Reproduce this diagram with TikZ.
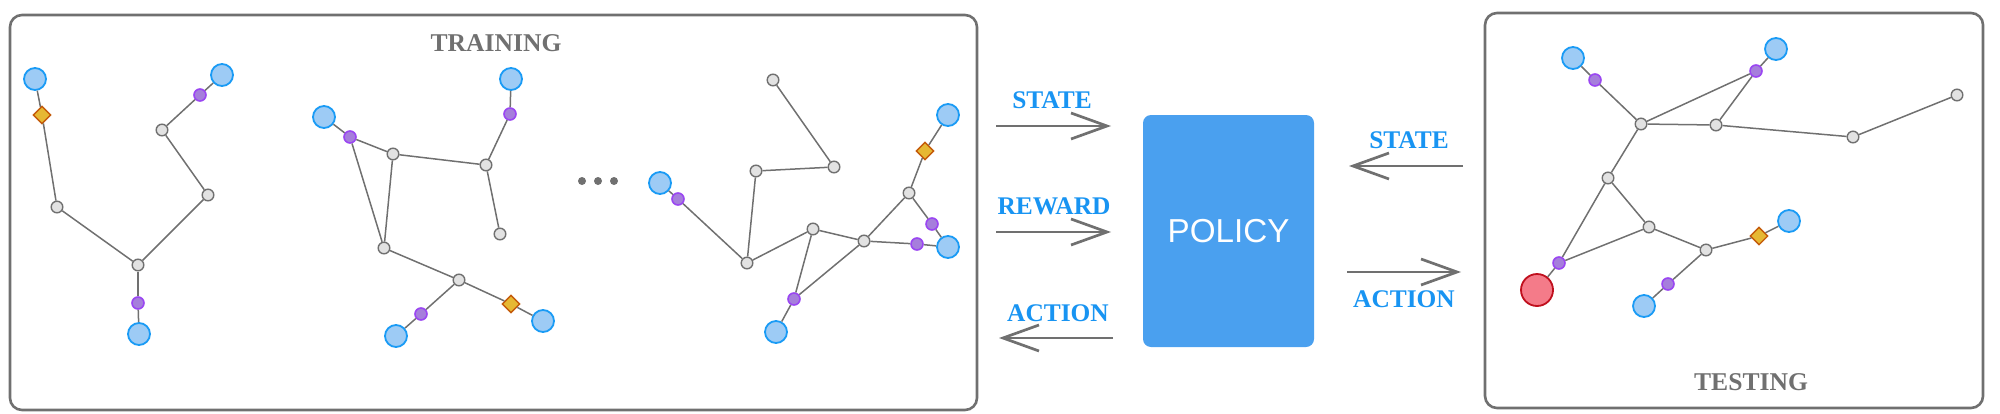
\documentclass[tikz,border=0pt]{standalone}
\usepackage{fontspec}
\setmainfont{Liberation Serif}
\newfontfamily\policyfont{Liberation Sans}
\usepackage{tikz}
\usetikzlibrary{arrows.meta,shapes.geometric}
\usepackage{xcolor}
\definecolor{LeafFill}{HTML}{9DCBF5}
\definecolor{LeafEdge}{HTML}{1A9BF5}
\definecolor{LinkFill}{HTML}{A67EDC}
\definecolor{LinkEdge}{HTML}{9A46F2}
\definecolor{GateFill}{HTML}{E6B833}
\definecolor{GateEdge}{HTML}{C45A0A}
\definecolor{SourceFill}{HTML}{F47B89}
\definecolor{SourceEdge}{HTML}{C0101E}
\definecolor{HubFill}{HTML}{E2E2E2}
\definecolor{LineGray}{HTML}{707070}
\definecolor{SignalBlue}{HTML}{1894F2}
\definecolor{PolicyBlue}{HTML}{4AA0EF}

\tikzset{
  leafnode/.style={circle,inner sep=0pt,minimum size=11pt,line width=0.9pt,draw=LeafEdge,fill=LeafFill},
  hubnode/.style={circle,inner sep=0pt,minimum size=5.8pt,line width=0.7pt,draw=LineGray,fill=HubFill},
  linknode/.style={circle,inner sep=0pt,minimum size=6pt,line width=0.8pt,draw=LinkEdge,fill=LinkFill},
  gatenode/.style={diamond,aspect=1,inner sep=0pt,minimum size=9pt,line width=0.7pt,draw=GateEdge,fill=GateFill},
  sourcenode/.style={circle,inner sep=0pt,minimum size=16pt,line width=0.9pt,draw=SourceEdge,fill=SourceFill},
  dotnode/.style={circle,inner sep=0pt,minimum size=4pt,fill=LineGray},
  bond/.style={draw=LineGray,line width=0.75pt},
  panel/.style={draw=LineGray,line width=1.3pt,rounded corners=6pt},
  caption/.style={inner sep=0pt,text=LineGray,font=\fontsize{12.8}{15}\selectfont\bfseries},
  signal/.style={inner sep=0pt,text=SignalBlue,font=\fontsize{12.7}{15}\selectfont\bfseries},
  flow/.style={draw=LineGray,line width=1.35pt,-{Straight Barb[length=18pt,width=13pt]}},
  policybox/.style={rectangle,rounded corners=4pt,fill=PolicyBlue,minimum width=85.5pt,minimum height=116pt,text=white,font=\policyfont\fontsize{16.6}{19}\selectfont}
}

\begin{document}
\begin{tikzpicture}[x=0.5pt,y=-0.5pt]
    \useasboundingbox (0,0) rectangle (2000,413);

    \draw[panel] (10,15) rectangle (977,410);
    \draw[panel] (1485,13) rectangle (1983,408);
    \node[caption] (train) at (496,43) {TRAINING};
    \node[caption] (test) at (1751,382) {TESTING};

    \node[leafnode] (A1) at (35,79) {};
    \node[gatenode] (A2) at (42,115) {};
    \node[hubnode] (A3) at (57,207) {};
    \node[hubnode] (A4) at (138,265) {};
    \node[hubnode] (A5) at (208,195) {};
    \node[hubnode] (A6) at (162,130) {};
    \node[linknode] (A7) at (200,95) {};
    \node[leafnode] (A8) at (222,75) {};
    \node[linknode] (A9) at (138,303) {};
    \node[leafnode] (A10) at (139,334) {};
    \foreach \a/\b in {A1/A2,A2/A3,A3/A4,A4/A5,A5/A6,A6/A7,A7/A8,A4/A9,A9/A10}
        \draw[bond] (\a) -- (\b);

    \node[leafnode] (B1) at (324,117) {};
    \node[linknode] (B2) at (350,137) {};
    \node[hubnode] (B3) at (393,154) {};
    \node[hubnode] (B4) at (486,165) {};
    \node[linknode] (B5) at (510,114) {};
    \node[leafnode] (B6) at (511,79) {};
    \node[hubnode] (B7) at (500,234) {};
    \node[hubnode] (B8) at (384,248) {};
    \node[hubnode] (B9) at (459,280) {};
    \node[linknode] (B10) at (421,314) {};
    \node[leafnode] (B11) at (396,336) {};
    \node[gatenode] (B12) at (511,304) {};
    \node[leafnode] (B13) at (543,321) {};
    \foreach \a/\b in {B1/B2,B2/B3,B2/B8,B3/B4,B3/B8,B4/B5,B5/B6,B4/B7,B8/B9,B9/B10,B10/B11,B9/B12,B12/B13}
        \draw[bond] (\a) -- (\b);

    \foreach \i/\x in {1/582,2/598,3/614}
        \node[dotnode] (dot\i) at (\x,181) {};

    \node[hubnode] (C1) at (773,80) {};
    \node[hubnode] (C2) at (834,167) {};
    \node[hubnode] (C3) at (756,171) {};
    \node[leafnode] (C4) at (660,183) {};
    \node[linknode] (C5) at (678,199) {};
    \node[hubnode] (C6) at (747,263) {};
    \node[hubnode] (C7) at (813,229) {};
    \node[hubnode] (C8) at (864,241) {};
    \node[hubnode] (C9) at (909,193) {};
    \node[gatenode] (C10) at (925,151) {};
    \node[leafnode] (C11) at (948,115) {};
    \node[linknode] (C12) at (932,224) {};
    \node[leafnode] (C13) at (948,247) {};
    \node[linknode] (C14) at (917,244) {};
    \node[linknode] (C15) at (794,299) {};
    \node[leafnode] (C16) at (776,332) {};
    \foreach \a/\b in {C1/C2,C2/C3,C3/C6,C4/C5,C5/C6,C6/C7,C7/C8,C7/C15,C15/C16,C15/C8,C8/C9,C9/C10,C10/C11,C9/C12,C12/C13,C8/C14,C14/C13}
        \draw[bond] (\a) -- (\b);

    \node[policybox] (policy) at (1228.5,231) {POLICY};

    \coordinate (trainStateA) at (996,126);
    \coordinate (trainStateB) at (1111,126);
    \coordinate (trainRewardA) at (996,232);
    \coordinate (trainRewardB) at (1111,232);
    \coordinate (trainActionA) at (1113,338);
    \coordinate (trainActionB) at (999,338);
    \coordinate (testStateA) at (1463,166);
    \coordinate (testStateB) at (1349,166);
    \coordinate (testActionA) at (1347,272);
    \coordinate (testActionB) at (1461,272);
    \draw[flow] (trainStateA) -- (trainStateB);
    \draw[flow] (trainRewardA) -- (trainRewardB);
    \draw[flow] (trainActionA) -- (trainActionB);
    \draw[flow] (testStateA) -- (testStateB);
    \draw[flow] (testActionA) -- (testActionB);
    \node[signal] (trainState) at (1052,100) {STATE};
    \node[signal] (trainReward) at (1054,206) {REWARD};
    \node[signal] (trainAction) at (1058,313) {ACTION};
    \node[signal] (testState) at (1409,140) {STATE};
    \node[signal] (testAction) at (1404,299) {ACTION};

    \node[leafnode] (T1) at (1573,58) {};
    \node[linknode] (T2) at (1595,80) {};
    \node[hubnode] (T3) at (1641,124) {};
    \node[leafnode] (T4) at (1776,49) {};
    \node[linknode] (T5) at (1756,71) {};
    \node[hubnode] (T6) at (1716,125) {};
    \node[hubnode] (T7) at (1853,137) {};
    \node[hubnode] (T8) at (1957,95) {};
    \node[hubnode] (T9) at (1608,178) {};
    \node[hubnode] (T10) at (1649,227) {};
    \node[hubnode] (T11) at (1706,250) {};
    \node[gatenode] (T12) at (1759,236) {};
    \node[leafnode] (T13) at (1789,221) {};
    \node[linknode] (T14) at (1559,263) {};
    \node[sourcenode] (T15) at (1537,290) {};
    \node[linknode] (T16) at (1668,284) {};
    \node[leafnode] (T17) at (1644,306) {};
    \foreach \a/\b in {T1/T2,T2/T3,T3/T5,T5/T4,T3/T6,T5/T6,T6/T7,T7/T8,T3/T9,T9/T14,T9/T10,T10/T14,T14/T15,T10/T11,T11/T12,T12/T13,T11/T16,T16/T17}
        \draw[bond] (\a) -- (\b);
\end{tikzpicture}
\end{document}
